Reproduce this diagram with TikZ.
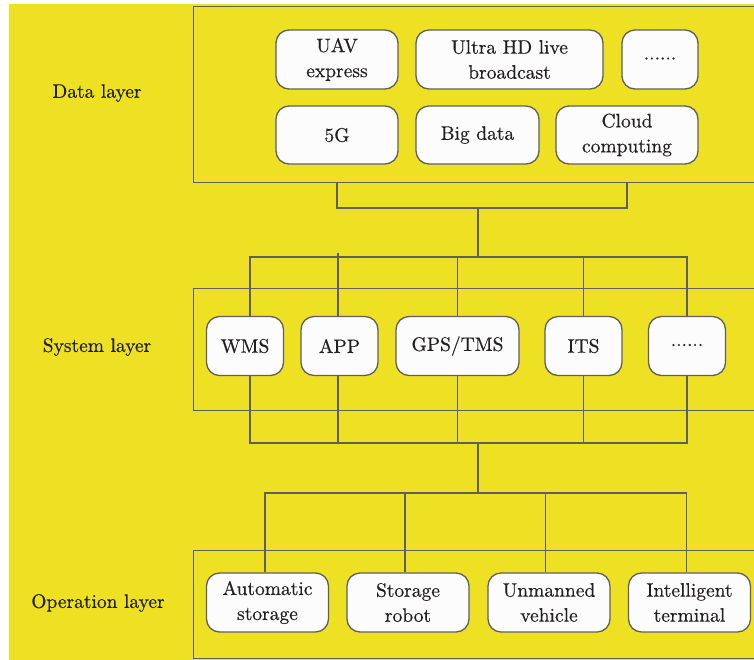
\documentclass[tikz,border=0pt]{standalone}
\usepackage{fontspec}
\newfontfamily\labelfont{lmroman10-regular.otf}[FakeBold=0.4]
\definecolor{bgyellow}{RGB}{238,224,34}
\definecolor{linegray}{RGB}{95,95,95}
\definecolor{textdark}{RGB}{35,31,32}
\definecolor{boxwhite}{RGB}{252,252,252}
\tikzset{
  wire/.style={draw=linegray, line width=1.4pt},
  frame/.style={draw=linegray, line width=1.4pt, rectangle, inner sep=0pt},
  item/.style={draw=linegray, line width=1.3pt, fill=boxwhite, rounded corners=13pt,
    inner sep=0pt, align=center, text=textdark,
    font=\labelfont\fontsize{19.5}{25}\selectfont},
  layername/.style={text=textdark, font=\labelfont\fontsize{19.5}{25}\selectfont}
}
\begin{document}
\begin{tikzpicture}[x=1pt,y=-1pt]
\useasboundingbox (0,0) rectangle (754,659);
\clip (0,0) rectangle (754,659);
\fill[bgyellow] (9,4) rectangle (760,665);

% layer frames (running off the right edge)
\node[frame, minimum width=580pt, minimum height=176pt, anchor=north west] (dataframe) at (193,6) {};
\node[frame, minimum width=580pt, minimum height=122pt, anchor=north west] (sysframe) at (193,288) {};
\node[frame, minimum width=580pt, minimum height=108pt, anchor=north west] (opframe) at (193,550) {};

% layer names
\node[layername] (dlabel) at (97,93) {Data layer};
\node[layername] (slabel) at (97,347) {System layer};
\node[layername] (olabel) at (98,603) {Operation layer};

% data layer items
\node[item, minimum width=122pt, minimum height=59pt] (uav) at (337,59.5) {UAV\\express};
\node[item, minimum width=187pt, minimum height=59pt] (uhd) at (509.5,59.5) {Ultra HD live\\broadcast};
\node[item, minimum width=76pt, minimum height=59pt] (dmore) at (660,59.5) {\raisebox{2pt}{......}};
\node[item, minimum width=122pt, minimum height=58pt] (fiveg) at (337,135) {5G};
\node[item, minimum width=123pt, minimum height=58pt] (bigdata) at (477.5,135) {Big data};
\node[item, minimum width=142pt, minimum height=58pt] (cloud) at (627,135) {Cloud\\computing};

% system layer items
\node[item, minimum width=77pt, minimum height=59pt] (wms) at (245,346) {WMS};
\node[item, minimum width=77pt, minimum height=59pt] (app) at (339.5,346) {APP};
\node[item, minimum width=123pt, minimum height=59pt] (gps) at (457.5,346) {GPS/TMS};
\node[item, minimum width=77pt, minimum height=59pt] (its) at (583.5,346) {ITS};
\node[item, minimum width=77pt, minimum height=59pt] (smore) at (687,346) {\raisebox{2pt}{......}};

% operation layer items
\node[item, minimum width=122pt, minimum height=59pt] (auto) at (267.5,602.5) {Automatic\\storage};
\node[item, minimum width=122pt, minimum height=59pt] (robot) at (408,602.5) {Storage\\robot};
\node[item, minimum width=122pt, minimum height=59pt] (unmanned) at (549,602.5) {Unmanned\\vehicle};
\node[item, minimum width=122pt, minimum height=59pt] (terminal) at (689.5,602.5) {Intelligent\\terminal};

% junction points of the connector trees
\coordinate (dbar) at (478,208);
\coordinate (stop) at (478,257);
\coordinate (sbot) at (478,443);
\coordinate (obar) at (478,493);

% data layer -> system layer
\draw[wire] (dataframe.south -| uav) |- (dbar) -| (dataframe.south -| cloud);
\draw[wire] (dbar) -- (stop);
\draw[wire] ([xshift=5pt]wms.north) |- (stop) -| (smore.north);
\draw[wire] (app.north) ++(-1.5,0) -- ++(0,-63);
\draw[wire] (gps.north) -- (gps.north |- stop);
\draw[wire] (its.north) -- (its.north |- stop);

% system layer -> operation layer
\draw[wire] ([xshift=5pt]wms.south) |- (sbot) -| (smore.south);
\draw[wire] ([xshift=-1.5pt]app.south) -- ([xshift=-1.5pt]app.south |- sbot);
\draw[wire] (gps.south) -- (gps.south |- sbot);
\draw[wire] (its.south) -- (its.south |- sbot);
\draw[wire] (sbot) -- (obar);
\draw[wire] ([xshift=-2.5pt]auto.north) |- (obar) -| ([xshift=-3pt]terminal.north);
\draw[wire] ([xshift=-3pt]robot.north) -- ([xshift=-3pt]robot.north |- obar);
\draw[wire] ([xshift=-3.5pt]unmanned.north) -- ([xshift=-3.5pt]unmanned.north |- obar);
\end{tikzpicture}
\end{document}
